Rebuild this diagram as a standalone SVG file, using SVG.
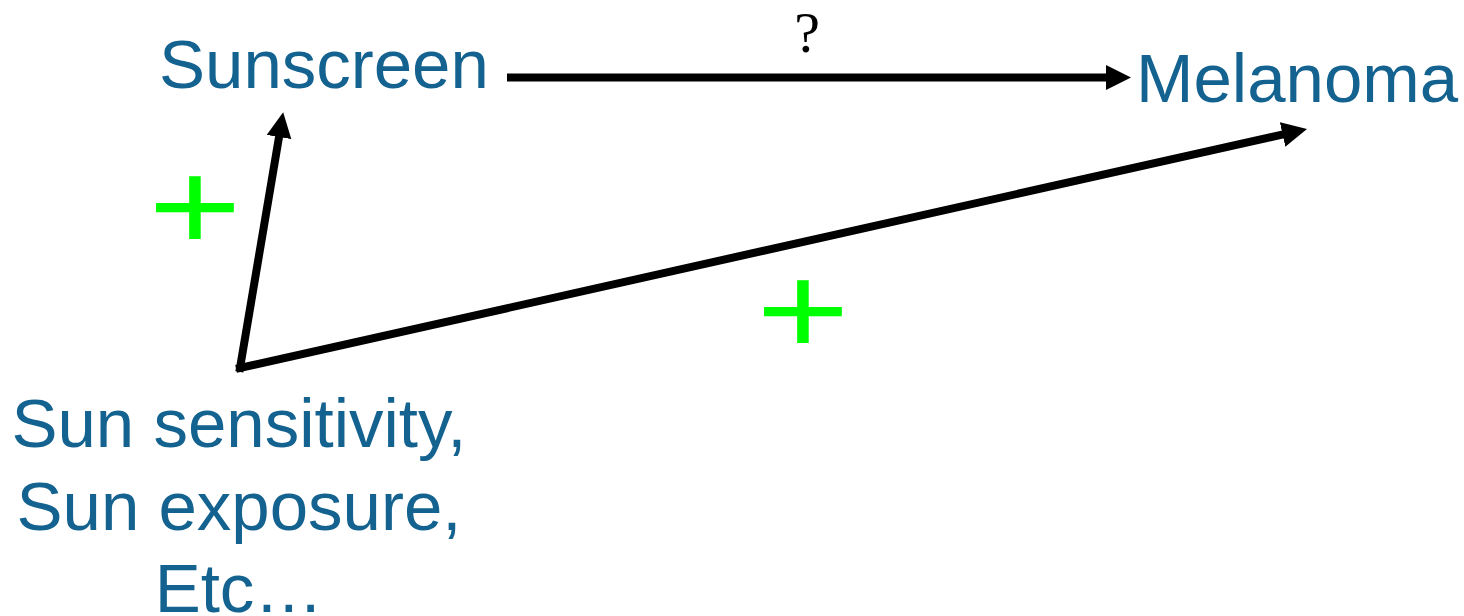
<svg xmlns="http://www.w3.org/2000/svg" width="1464" height="616" viewBox="0 0 1464 616">
<style>
.lbl{font-family:"Liberation Sans",Arial,sans-serif;font-size:69px;fill:#13628f}
.plus{font-family:"Liberation Sans",Arial,sans-serif;font-size:160px;fill:#00ff00}
.edge{stroke:#000;stroke-width:8;fill:none;stroke-linecap:square}
.q{font-family:"Liberation Serif","Times New Roman",serif;font-size:58px;fill:#000}
</style>
<defs>
<marker id="ah" markerUnits="userSpaceOnUse" markerWidth="26" markerHeight="26" viewBox="0 0 26 26" refX="0" refY="12.5" orient="auto">
<path d="M0,0 L25,12.5 L0,25 Z" fill="#000"/>
</marker>
</defs>
<rect width="1464" height="616" fill="#fff"/>
<g id="edges">
<line class="edge" x1="511" y1="77.5" x2="1106" y2="77.5" marker-end="url(#ah)"/>
<line class="edge" x1="240" y1="368" x2="279" y2="137" marker-end="url(#ah)"/>
<line class="edge" x1="240" y1="368" x2="1282.6" y2="134.5" marker-end="url(#ah)"/>
<text class="q" x="807" y="52" text-anchor="middle">?</text>
<text class="plus" x="195" y="0" text-anchor="middle" transform="translate(0,250) scale(1,0.8)">+</text>
<text class="plus" x="803" y="0" text-anchor="middle" transform="translate(0,354) scale(1,0.8)">+</text>
</g>
<g id="sunscreen"><text class="lbl" x="159" y="88">Sunscreen</text></g>
<g id="melanoma"><text class="lbl" x="1136" y="102">Melanoma</text></g>
<g id="confounders">
<text class="lbl" x="239" y="447" text-anchor="middle">Sun sensitivity,</text>
<text class="lbl" x="239" y="530" text-anchor="middle">Sun exposure,</text>
<text class="lbl" x="239" y="612" text-anchor="middle">Etc…</text>
</g>
</svg>
